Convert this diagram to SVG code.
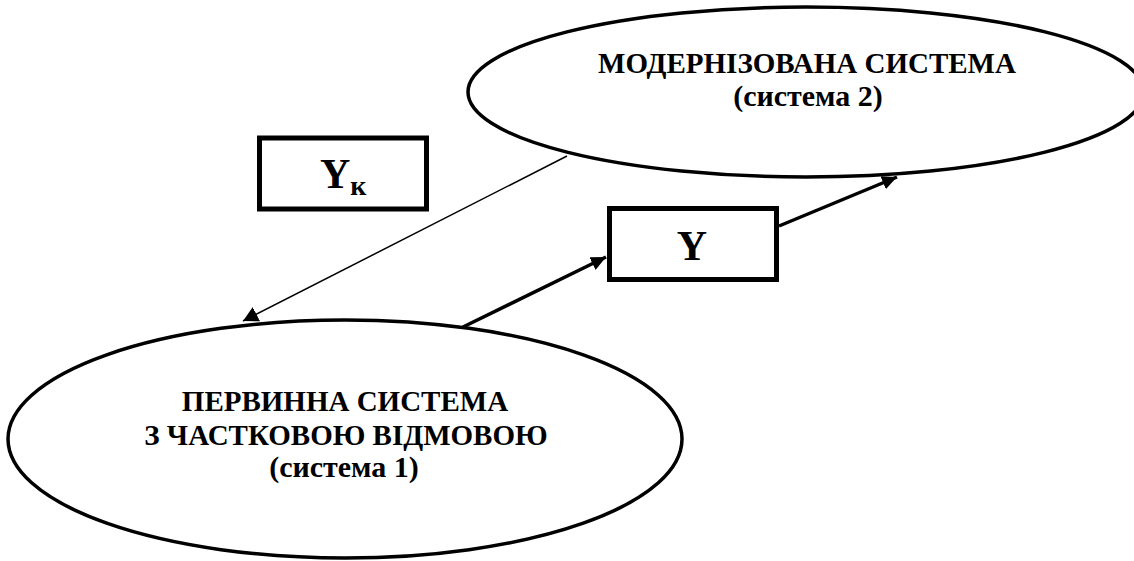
<svg xmlns="http://www.w3.org/2000/svg" width="1134" height="561" viewBox="0 0 1134 561">
  <style>
    .ell { fill: #ffffff; stroke: #000000; stroke-width: 3.5; }
    .box { fill: #ffffff; stroke: #000000; stroke-width: 5; }
    .lbl { font-family: "Liberation Serif", "Times New Roman", serif; font-weight: bold; font-size: 29px; fill: #000000; text-anchor: middle; }
    .sub { font-family: "Liberation Serif", "Times New Roman", serif; font-weight: bold; font-size: 30px; fill: #000000; text-anchor: middle; }
    .big { font-family: "Liberation Serif", "Times New Roman", serif; font-weight: bold; font-size: 42px; fill: #000000; }
    .thick { stroke: #000000; stroke-width: 3.5; fill: none; marker-end: url(#headThick); }
    .thin { stroke: #000000; stroke-width: 1.5; fill: none; marker-end: url(#headThin); }
  </style>
  <defs>
    <marker id="headThick" markerUnits="userSpaceOnUse" markerWidth="16" markerHeight="14" refX="15" refY="7" orient="auto">
      <path d="M0,0 L15,7 L0,14 Z" fill="#000000"/>
    </marker>
    <marker id="headThin" markerUnits="userSpaceOnUse" markerWidth="16" markerHeight="16" refX="15" refY="8" orient="auto">
      <path d="M0,0 L15,8 L0,16 Z" fill="#000000"/>
    </marker>
  </defs>
  <rect x="0" y="0" width="1134" height="561" fill="#ffffff"/>

  <g id="node-system2">
    <ellipse class="ell" cx="806" cy="92" rx="338" ry="85"/>
    <text class="lbl" x="807" y="73">МОДЕРНІЗОВАНА СИСТЕМА</text>
    <text class="sub" x="808" y="106">(система 2)</text>
  </g>

  <g id="node-system1">
    <ellipse class="ell" cx="345" cy="439" rx="337" ry="119"/>
    <text class="lbl" x="345" y="411">ПЕРВИННА СИСТЕМА</text>
    <text class="lbl" x="346" y="445">З ЧАСТКОВОЮ ВІДМОВОЮ</text>
    <text class="sub" x="344" y="477">(система 1)</text>
  </g>

  <g id="node-yk">
    <rect class="box" x="259.5" y="138" width="167" height="71"/>
    <text class="big" x="320" y="188">Y<tspan font-size="28" dy="7">к</tspan></text>
  </g>

  <g id="node-y">
    <rect class="box" x="609.5" y="208.5" width="167" height="71"/>
    <text class="big" x="692" y="260" text-anchor="middle">Y</text>
  </g>

  <g id="connectors">
    <line class="thin" x1="567" y1="156" x2="243" y2="321"/>
    <line class="thick" x1="463" y1="327" x2="606" y2="257"/>
    <line class="thick" x1="779" y1="226" x2="897" y2="177"/>
  </g>
</svg>
